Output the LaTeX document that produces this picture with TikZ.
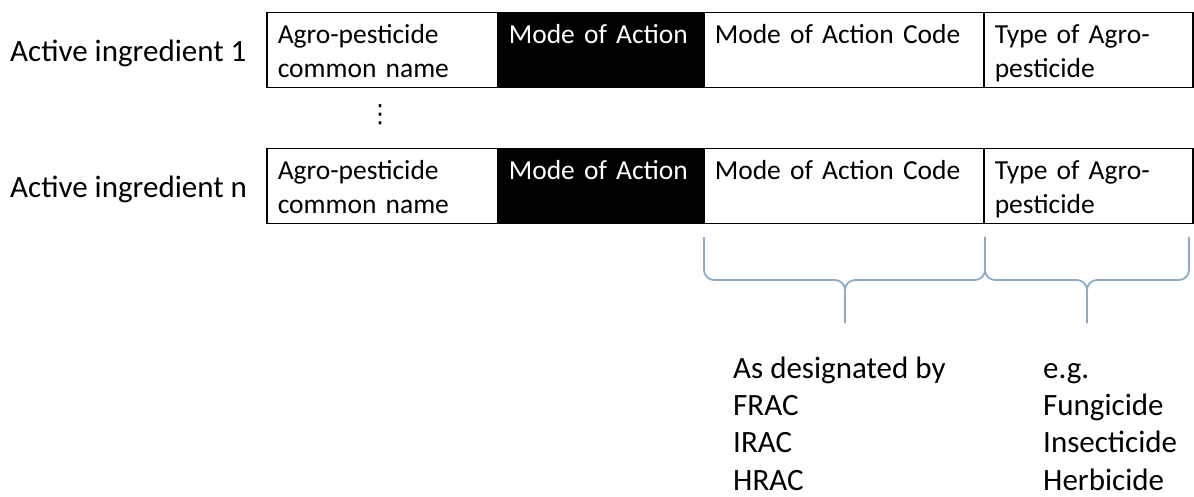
\documentclass[tikz,border=0pt]{standalone}
\usepackage{fontspec}
\setmainfont{Carlito}
\newfontfamily\symfont{DejaVu Sans}
\hyphenpenalty=10000
\usetikzlibrary{calc}
\definecolor{bracegray}{RGB}{143,170,196}
\tikzset{
	cell/.style={rectangle, draw, line width=1.5pt, anchor=north west, align=left, inner xsep=11pt, inner ysep=4pt, text height=27pt, text depth=40pt, font=\fontsize{27.5}{34}\selectfont},
	ingr/.style={anchor=base west, inner sep=0pt, font=\fontsize{31}{37}\selectfont},
	note/.style={anchor=base west, inner sep=0pt, align=left, font=\fontsize{31}{37.3}\selectfont},
	curly/.style={draw=bracegray, line width=1.8pt, rounded corners=10pt}
}

\begin{document}
\begin{tikzpicture}[x=1pt, y=-1pt]
		\useasboundingbox (0,0) rectangle (1194,497);
		\path (10,62) node[ingr] (ai1) {Active ingredient 1}
  		(266,12) node[cell, text width=209pt] (name1) {Agro-pesticide\\common name}
  		(497,12) node[cell, text width=184pt, fill=black, text=white] (moa1) {Mode of Action}
  		(703,12) node[cell, text width=258pt] (code1) {Mode of Action Code}
  		(983,12) node[cell, text width=187pt] (type1) {Type of Agro-\\pesticide};

		\path (380,115) node[inner sep=0pt, font=\symfont\fontsize{25}{25}\selectfont] (vd) {⋮};

		\path (10,198) node[ingr] (ain) {Active ingredient n}
  		(266,148) node[cell, text width=209pt] (name2) {Agro-pesticide\\common name}
  		(497,148) node[cell, text width=184pt, fill=black, text=white] (moa2) {Mode of Action}
  		(703,148) node[cell, text width=258pt] (code2) {Mode of Action Code}
  		(983,148) node[cell, text width=187pt] (type2) {Type of Agro-\\pesticide};

		\draw[curly] (704,237) |- (845,280) -- (845,323);
		\draw[curly] (985,237) |- (845,280) -- (845,323);
		\draw[curly] (985,237) |- (1087,280) -- (1087,323);
		\draw[curly] (1189,237) |- (1087,280) -- (1087,323);

		\path (733,490) node[note] (frac) {As designated by\\FRAC\\IRAC\\HRAC}
  		(1043,490) node[note] (eg) {e.g.\\Fungicide\\Insecticide\\Herbicide};
	\end{tikzpicture}
\end{document}
